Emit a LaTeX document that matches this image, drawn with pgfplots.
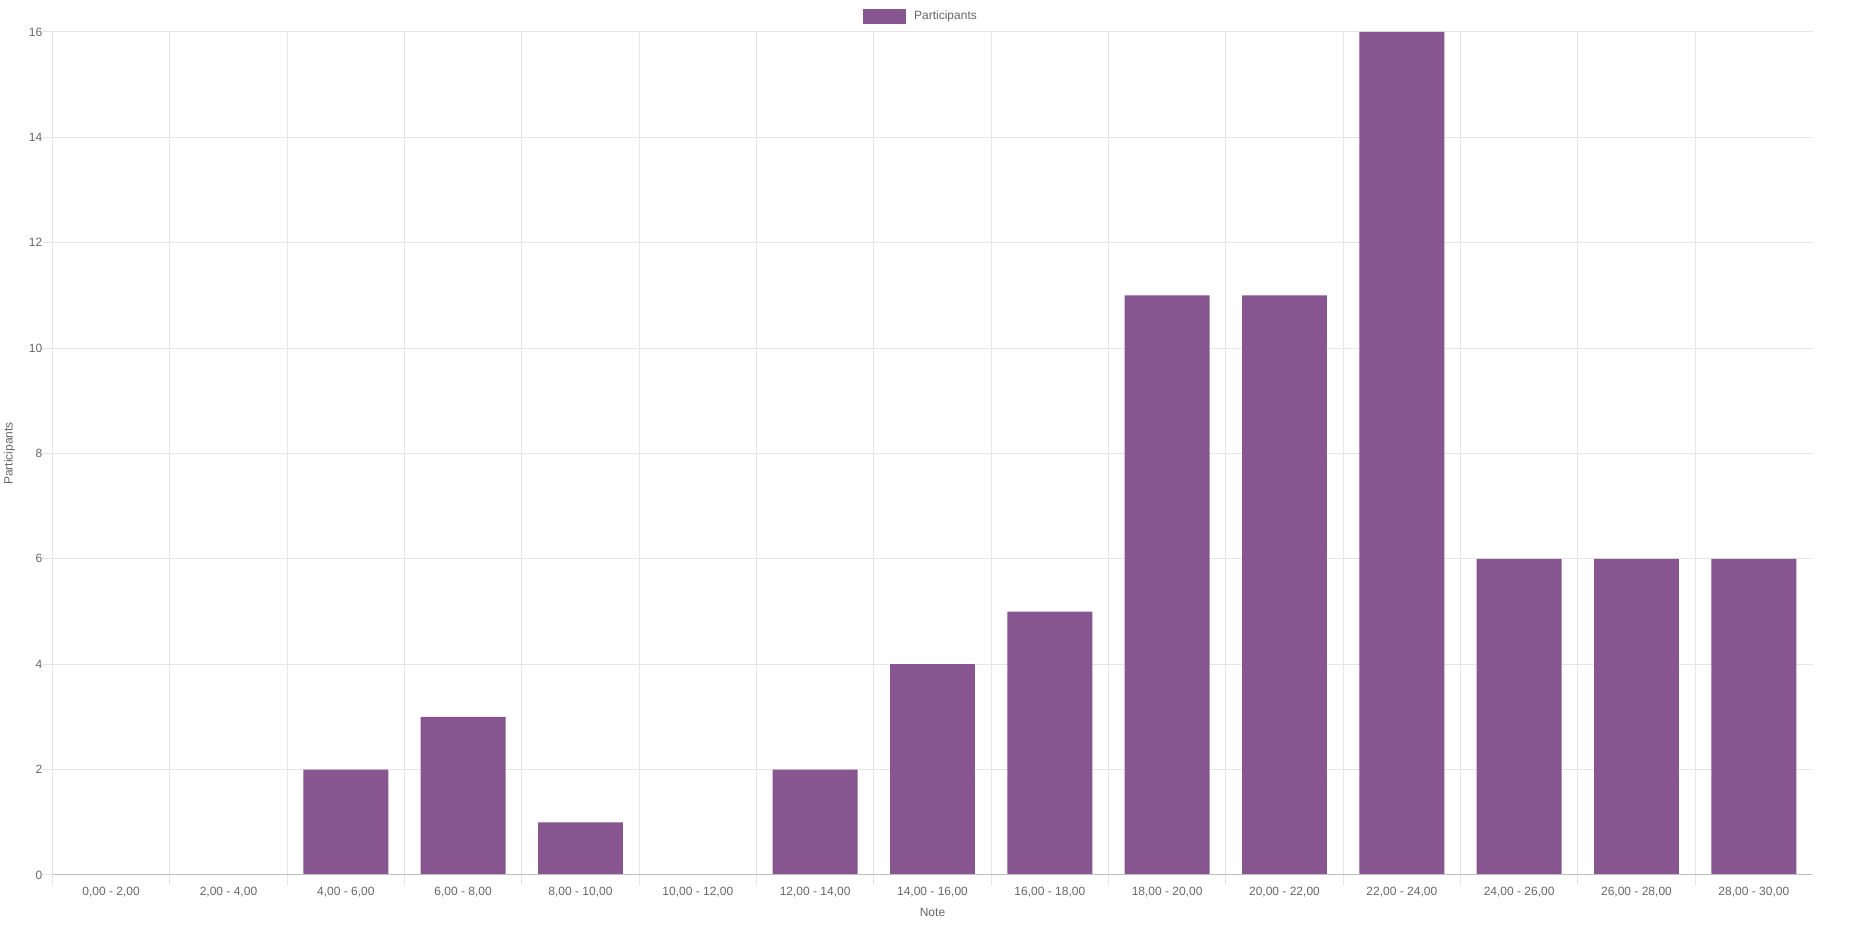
\documentclass[border=0pt]{standalone}
\usepackage{pgfplots}
\pgfplotsset{compat=1.18}
\usepackage{fontspec}
\setmainfont{Liberation Sans}

\definecolor{barc}{RGB}{135,85,143}
\definecolor{txt}{RGB}{102,102,102}
\definecolor{gridc}{RGB}{229,229,229}
\definecolor{zeroc}{RGB}{191,191,191}

\begin{document}
\begin{tikzpicture}[x=1pt,y=1pt]
\path (0,0) rectangle (1850,925);
\begin{axis}[
  at={(52.5pt,50pt)}, anchor=south west,
  scale only axis,
  width=1760pt, height=843pt,
  xmin=-0.5, xmax=14.5,
  ymin=0, ymax=16,
  enlarge x limits=false,
  axis x line*=bottom, axis y line*=left,
  axis line style={gridc, line width=1pt, -},
  grid style={gridc, line width=1pt},
  tick style={gridc, line width=1pt},
  tick align=outside,
  major tick length=10pt,
  xtick={-0.5,0.5,...,13.5},
  xticklabels={},
  xmajorgrids,
  ytick={0,2,...,16},
  ymajorgrids,
  extra x ticks={0,1,...,14},
  extra x tick labels={0{,}00 - 2{,}00, 2{,}00 - 4{,}00, 4{,}00 - 6{,}00, 6{,}00 - 8{,}00, 8{,}00 - 10{,}00, 10{,}00 - 12{,}00, 12{,}00 - 14{,}00, 14{,}00 - 16{,}00, 16{,}00 - 18{,}00, 18{,}00 - 20{,}00, 20{,}00 - 22{,}00, 22{,}00 - 24{,}00, 24{,}00 - 26{,}00, 26{,}00 - 28{,}00, 28{,}00 - 30{,}00},
  extra x tick style={grid=none, major tick length=0pt, tick style={draw=none}},
  xticklabel style={font=\fontsize{12}{14}\selectfont, text=txt, anchor=north, inner sep=0pt, yshift=-12pt},
  yticklabel style={font=\fontsize{12}{14}\selectfont, text=txt, anchor=east, inner sep=0pt},
  /pgf/number format/assume math mode=true,
  every axis x label/.style={at={(axis description cs:0.5,0)}, anchor=center, yshift=-37pt},
  every axis y label/.style={at={(axis description cs:0,0.5)}, anchor=center, xshift=-43pt, rotate=90},
  xlabel={Note},
  ylabel={Participants},
  label style={font=\fontsize{12}{14}\selectfont, text=txt},
  legend style={at={(0.5,1)}, anchor=south, yshift=8pt, xshift=-11.5pt, draw=none, fill=none,
    font=\fontsize{12}{14}\selectfont, text=txt, inner sep=0pt,
    /tikz/every odd column/.append style={column sep=6pt}},
  ybar, bar width=0.724, bar shift=0pt,
]
\addplot[fill=barc, draw=none,
  legend image code/.code={\fill[barc] (0pt,-7.5pt) rectangle (43pt,7.5pt);}] coordinates {
  (0,0) (1,0) (2,2) (3,3) (4,1) (5,0) (6,2) (7,4)
  (8,5) (9,11) (10,11) (11,16) (12,6) (13,6) (14,6)
};
\addlegendentry{Participants}
\draw[zeroc, line width=1pt] (axis cs:-0.5,0) -- (axis cs:14.5,0);
\end{axis}
\end{tikzpicture}
\end{document}
